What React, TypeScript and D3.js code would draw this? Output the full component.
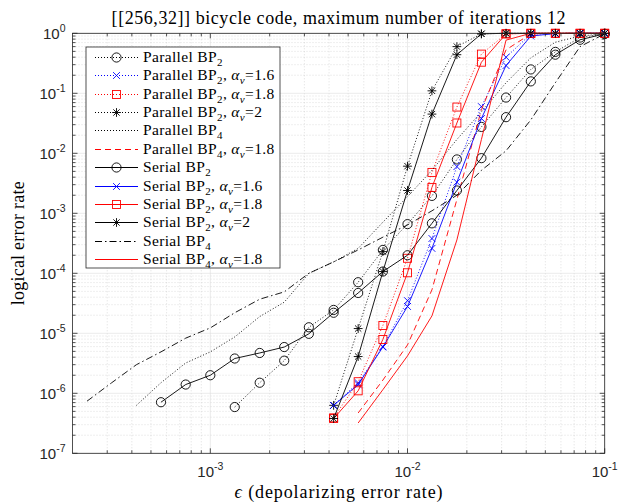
import React from "react";
import * as d3 from "d3";

// physical error rates used in the simulations
const eps = [
  2.37e-4, 3.16e-4, 4.22e-4, 5.62e-4, 7.5e-4, 1e-3, 1.33e-3, 1.78e-3, 2.37e-3, 3.16e-3, 4.22e-3,
  5.62e-3, 7.5e-3, 1e-2, 1.33e-2, 1.78e-2, 2.37e-2, 3.16e-2, 4.22e-2, 5.62e-2, 7.5e-2, 0.1,
];

// every series runs up to eps = 0.1, so values line up with the tail of eps
const parBP2 = [5.9e-7, 1.5e-6, 3.5e-6, 1.26e-5, 2.45e-5, 7.1e-5, 2.45e-4, 6.6e-4, 1.95e-3, 7.9e-3, 2.75e-2, 8.5e-2, 0.25, 0.49, 0.85, 0.98];
const parBP2a16 = [6.3e-7, 1.5e-6, 6e-6, 3.5e-5, 3.8e-4, 6e-3, 6e-2, 0.4, 0.97, 0.99, 1, 1];
const parBP2a18 = [3.9e-7, 1.56e-6, 1.35e-5, 1.78e-4, 4.8e-3, 5.9e-2, 0.45, 0.98, 1, 1, 1, 1];
const parBP2a2 = [6.3e-7, 1.2e-5, 2.3e-4, 6.1e-3, 0.11, 0.6, 0.98, 1, 1, 1, 1, 1];
const parBP4 = [6.3e-7, 1.5e-6, 3.2e-6, 4.9e-6, 8.7e-6, 1.9e-5, 3.3e-5, 1e-4, 1.55e-4, 2.6e-4, 7.1e-4, 1.9e-3, 5.2e-3, 1.7e-2, 4.9e-2, 0.15, 0.39, 0.71, 0.9, 0.98];
const parBP4a18 = [4.7e-7, 1.66e-6, 6.4e-6, 5.3e-5, 1.7e-3, 5.3e-2, 0.53, 0.98, 1, 1, 1];
const serBP2 = [7.1e-7, 1.4e-6, 2.0e-6, 3.8e-6, 4.7e-6, 5.9e-6, 9.8e-6, 2.2e-5, 4.7e-5, 1.07e-4, 2.0e-4, 6.8e-4, 2.4e-3, 8.3e-3, 4.0e-2, 0.158, 0.44, 0.78, 0.98];
const serBP2a16 = [6.3e-7, 1.4e-6, 5.9e-6, 2.8e-5, 2.6e-4, 3.3e-3, 3.8e-2, 0.29, 0.9, 0.99, 1, 1];
const serBP2a18 = [3.8e-7, 1.1e-6, 7.9e-6, 1.02e-4, 2.7e-3, 3.2e-2, 0.33, 0.98, 1, 1, 1, 1];
const serBP2a2 = [3.8e-7, 4.1e-6, 1.07e-4, 2.4e-3, 4.5e-2, 0.44, 0.98, 1, 1, 1, 1, 1];
const serBP4 = [7.4e-7, 1.5e-6, 3e-6, 4.9e-6, 8.3e-6, 1.23e-5, 2.2e-5, 3.7e-5, 4.9e-5, 1e-4, 1.55e-4, 2.45e-4, 4e-4, 6.4e-4, 1.1e-3, 2e-3, 5.2e-3, 1.1e-2, 3.6e-2, 0.15, 0.6, 0.98];
const serBP4a18 = [3.2e-7, 1.15e-6, 4.2e-6, 1.95e-5, 3.6e-4, 1.7e-2, 0.77, 1, 1, 1, 1];

const xTicks = [1e-3, 1e-2, 1e-1];
const yTicks = [1e-7, 1e-6, 1e-5, 1e-4, 1e-3, 1e-2, 1e-1, 1];

const BLACK = "#000000";
const BLUE = "#0000ff";
const RED = "#ff0000";
const DOT = "1 2";
const DASH = "6 4";
const DASHDOT = "7 3 1.5 3";

type Series = {
  label: string;
  sub: string;
  alpha?: string;
  values: number[];
  color: string;
  dash: string | null;
  marker: "o" | "x" | "s" | "*" | null;
};

const series: Series[] = [
  { label: "Parallel BP", sub: "2", values: parBP2, color: BLACK, dash: DOT, marker: "o" },
  { label: "Parallel BP", sub: "2", alpha: "1.6", values: parBP2a16, color: BLUE, dash: DOT, marker: "x" },
  { label: "Parallel BP", sub: "2", alpha: "1.8", values: parBP2a18, color: RED, dash: DOT, marker: "s" },
  { label: "Parallel BP", sub: "2", alpha: "2", values: parBP2a2, color: BLACK, dash: DOT, marker: "*" },
  { label: "Parallel BP", sub: "4", values: parBP4, color: BLACK, dash: DOT, marker: null },
  { label: "Parallel BP", sub: "4", alpha: "1.8", values: parBP4a18, color: RED, dash: DASH, marker: null },
  { label: "Serial BP", sub: "2", values: serBP2, color: BLACK, dash: null, marker: "o" },
  { label: "Serial BP", sub: "2", alpha: "1.6", values: serBP2a16, color: BLUE, dash: null, marker: "x" },
  { label: "Serial BP", sub: "2", alpha: "1.8", values: serBP2a18, color: RED, dash: null, marker: "s" },
  { label: "Serial BP", sub: "2", alpha: "2", values: serBP2a2, color: BLACK, dash: null, marker: "*" },
  { label: "Serial BP", sub: "4", values: serBP4, color: BLACK, dash: DASHDOT, marker: null },
  { label: "Serial BP", sub: "4", alpha: "1.8", values: serBP4a18, color: RED, dash: null, marker: null },
];

const W = 626;
const H = 504;
const plot = { left: 72.5, right: 604.7, top: 33.3, bottom: 453.3 };
const AX = "#262626";
const SERIF = "'Liberation Serif', 'Times New Roman', serif";
const SANS = "'Liberation Sans', Arial, Helvetica, sans-serif";

const x = d3.scaleLog().domain([2e-4, 0.1]).range([plot.left, plot.right]);
const y = d3.scaleLog().domain([1e-7, 1]).range([plot.bottom, plot.top]);

const minorOf = (lo: number, hi: number) => {
  const out: number[] = [];
  for (let e = Math.floor(Math.log10(lo)); e < Math.ceil(Math.log10(hi)); e++) {
    for (let k = 2; k <= 9; k++) {
      const v = k * Math.pow(10, e);
      if (v > lo && v < hi) out.push(v);
    }
  }
  return out;
};
const xMinor = minorOf(2e-4, 0.1);
const yMinor = minorOf(1e-7, 1);

function Marker({ kind, cx, cy, color }: { kind: string; cx: number; cy: number; color: string }) {
  const sw = 0.9;
  if (kind === "o") return <circle cx={cx} cy={cy} r={4.6} fill="none" stroke={color} strokeWidth={sw} />;
  if (kind === "s")
    return <rect x={cx - 4} y={cy - 4} width={8} height={8} fill="none" stroke={color} strokeWidth={sw} />;
  if (kind === "x") {
    const a = 3.4;
    return (
      <path d={`M${cx - a},${cy - a}L${cx + a},${cy + a}M${cx - a},${cy + a}L${cx + a},${cy - a}`} stroke={color} strokeWidth={sw} />
    );
  }
  const a = 4.4;
  const b = a * 0.72;
  return (
    <path
      d={`M${cx},${cy - a}L${cx},${cy + a}M${cx - a},${cy}L${cx + a},${cy}M${cx - b},${cy - b}L${cx + b},${cy + b}M${cx - b},${cy + b}L${cx + b},${cy - b}`}
      stroke={color}
      strokeWidth={sw}
    />
  );
}

function Pow10({ v, ...rest }: any) {
  const e = Math.round(Math.log10(v));
  return (
    <text {...rest} fontFamily={SANS} fill={AX}>
      <tspan fontSize={15}>10</tspan>
      <tspan fontSize={10.5} dy={-7}>
        {e}
      </tspan>
    </text>
  );
}

function Label({ s, x0, y0 }: { s: Series; x0: number; y0: number }) {
  return (
    <text x={x0} y={y0} fontFamily={SERIF} fontSize={15.5} fill="#000" letterSpacing={0.35}>
      <tspan>{s.label}</tspan>
      <tspan fontSize={11} dy={3.5}>
        {s.sub}
      </tspan>
      {s.alpha ? (
        <>
          <tspan dy={-3.5}>, </tspan>
          <tspan fontStyle="italic">α</tspan>
          <tspan fontStyle="italic" fontSize={11} dy={3.5}>
            v
          </tspan>
          <tspan dy={-3.5}>{"=" + s.alpha}</tspan>
        </>
      ) : null}
    </text>
  );
}

export default function App() {
  const line = d3
    .line<[number, number]>()
    .x((d) => x(d[0]))
    .y((d) => y(d[1]));

  const legend = { x: 86, y: 47, w: 194, h: 221, row0: 56.7, step: 18.4 };

  return (
    <div style={{ position: "fixed", left: 0, top: 0 }}>
      <svg width={W} height={H} style={{ display: "block", background: "#fff" }}>
        <rect x={0} y={0} width={W} height={H} fill="#fff" />
        {/* grid */}
        <g>
          {xMinor.map((v) => (
            <line key={"xm" + v} x1={x(v)} x2={x(v)} y1={plot.top} y2={plot.bottom} stroke="#c8c8c8" strokeWidth={0.6} strokeDasharray="1 2" />
          ))}
          {yMinor.map((v) => (
            <line key={"ym" + v} x1={plot.left} x2={plot.right} y1={y(v)} y2={y(v)} stroke="#c8c8c8" strokeWidth={0.6} strokeDasharray="1 2" />
          ))}
          {xTicks.map((v) => (
            <line key={"xg" + v} x1={x(v)} x2={x(v)} y1={plot.top} y2={plot.bottom} stroke="#dedede" strokeWidth={0.6} />
          ))}
          {yTicks.map((v) => (
            <line key={"yg" + v} x1={plot.left} x2={plot.right} y1={y(v)} y2={y(v)} stroke="#dedede" strokeWidth={0.6} />
          ))}
        </g>
        {/* data */}
        <g>
          {series.map((s, i) => {
            const xs = eps.slice(eps.length - s.values.length);
            const pts = s.values.map((v, j) => [xs[j], v] as [number, number]);
            return (
              <g key={i}>
                <path d={line(pts) || ""} fill="none" stroke={s.color} strokeWidth={0.9} strokeDasharray={s.dash || undefined} />
                {s.marker ? pts.map((p, j) => <Marker key={j} kind={s.marker!} cx={x(p[0])} cy={y(p[1])} color={s.color} />) : null}
              </g>
            );
          })}
        </g>
        {/* axes box and ticks */}
        <g stroke={AX} strokeWidth={0.8}>
          <rect x={plot.left} y={plot.top} width={plot.right - plot.left} height={plot.bottom - plot.top} fill="none" />
          {xTicks.concat(xMinor).map((v) => {
            const len = xTicks.includes(v) ? 5 : 3;
            return (
              <g key={"xt" + v}>
                <line x1={x(v)} x2={x(v)} y1={plot.bottom} y2={plot.bottom - len} />
                <line x1={x(v)} x2={x(v)} y1={plot.top} y2={plot.top + len} />
              </g>
            );
          })}
          {yTicks.concat(yMinor).map((v) => {
            const len = yTicks.includes(v) ? 5 : 3;
            return (
              <g key={"yt" + v}>
                <line x1={plot.left} x2={plot.left + len} y1={y(v)} y2={y(v)} />
                <line x1={plot.right} x2={plot.right - len} y1={y(v)} y2={y(v)} />
              </g>
            );
          })}
        </g>
        {/* tick labels */}
        {yTicks.map((v) => (
          <Pow10 key={"yl" + v} v={v} x={plot.left - 7} y={y(v) + 5.5} textAnchor="end" />
        ))}
        {xTicks.map((v) => (
          <Pow10 key={"xl" + v} v={v} x={x(v)} y={plot.bottom + 24} textAnchor="middle" />
        ))}
        {/* legend */}
        <g>
          <rect x={legend.x} y={legend.y} width={legend.w} height={legend.h} fill="#fff" stroke={AX} strokeWidth={0.8} />
          {series.map((s, i) => {
            const ry = Math.round(legend.row0 + i * legend.step) + 0.5;
            return (
              <g key={"lg" + i}>
                <line x1={95} x2={138} y1={ry} y2={ry} stroke={s.color} strokeWidth={1} strokeDasharray={s.dash || undefined} />
                {s.marker ? <Marker kind={s.marker} cx={116.5} cy={ry} color={s.color} /> : null}
                <Label s={s} x0={143} y0={ry + 4.5} />
              </g>
            );
          })}
        </g>
        {/* title and axis labels */}
        <text x={(plot.left + plot.right) / 2} y={24} textAnchor="middle" fontFamily={SERIF} fontSize={18} fill="#000" textLength={454} lengthAdjust="spacing">
          [[256,32]] bicycle code, maximum number of iterations 12
        </text>
        <text x={(plot.left + plot.right) / 2} y={498} textAnchor="middle" fontFamily={SERIF} fontSize={18} fill="#000" textLength={208} lengthAdjust="spacing">
          <tspan fontStyle="italic">ϵ</tspan> (depolarizing error rate)
        </text>
        <text
          transform={`translate(${24},${(plot.top + plot.bottom) / 2}) rotate(-90)`}
          textAnchor="middle"
          fontFamily={SERIF}
          fontSize={18}
          fill="#000"
          textLength={124}
          lengthAdjust="spacing"
        >
          logical error rate
        </text>
      </svg>
    </div>
  );
}
